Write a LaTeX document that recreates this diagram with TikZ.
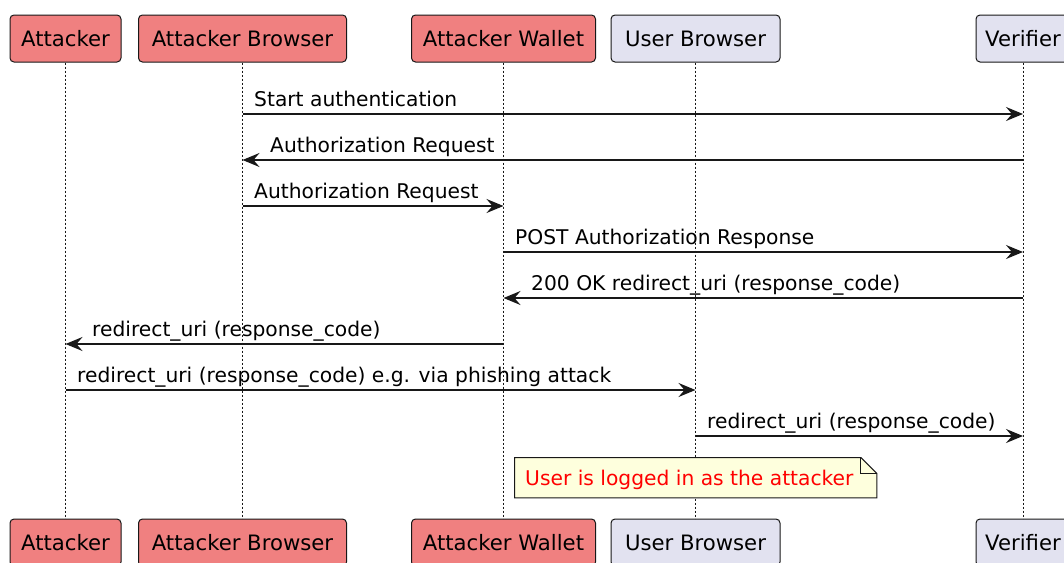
\documentclass[tikz,border=0pt]{standalone}
\usepackage{fontspec}
\setmainfont{DejaVu Sans}
\usetikzlibrary{arrows.meta}
\definecolor{edge}{HTML}{181818}
\definecolor{atk}{HTML}{F08080}
\definecolor{usr}{HTML}{E2E2F0}
\definecolor{notebg}{HTML}{FEFFDD}
\begin{document}
\begin{tikzpicture}[x=1pt,y=-1pt,
  part/.style={draw=edge, line width=1pt, rounded corners=4pt, minimum height=47pt,
               inner sep=0pt, font=\fontsize{21.2}{25}\selectfont, text=black},
  atkpart/.style={part, fill=atk},
  usrpart/.style={part, fill=usr},
  life/.style={draw=edge, line width=0.9pt, dash pattern=on 2pt off 2pt},
  msg/.style={draw=edge, line width=1.5pt, -{Stealth[length=17pt,width=14pt,inset=6pt]}},
  lbl/.style={anchor=base west, inner sep=0pt, font=\fontsize{20.25}{24}\selectfont, text=black},
]
\path[use as bounding box, clip] (0,0) rectangle (1064,562);

% participants, top row
\node[atkpart, minimum width=111pt] (atkT) at (65.5,38.5) {Attacker};
\node[atkpart, minimum width=208pt] (abT)  at (242.5,38.5) {Attacker Browser};
\node[atkpart, minimum width=184pt] (awT)  at (503.5,38.5) {Attacker Wallet};
\node[usrpart, minimum width=169pt] (ubT)  at (695.5,38.5) {User Browser};
\node[usrpart, minimum width=94pt]  (verT) at (1023,38.5) {Verifier};

% participants, bottom row
\node[atkpart, minimum width=111pt] (atkB) at (65.5,542.5) {Attacker};
\node[atkpart, minimum width=208pt] (abB)  at (242.5,542.5) {Attacker Browser};
\node[atkpart, minimum width=184pt] (awB)  at (503.5,542.5) {Attacker Wallet};
\node[usrpart, minimum width=169pt] (ubB)  at (695.5,542.5) {User Browser};
\node[usrpart, minimum width=94pt]  (verB) at (1023,542.5) {Verifier};

% lifelines
\draw[life] (atkT.south) -- (atkB.north);
\draw[life] (abT.south)  -- (abB.north);
\draw[life] (awT.south)  -- (awB.north);
\draw[life] (ubT.south)  -- (ubB.north);
\draw[life] (verT.south) -- (verB.north);

% messages
\draw[msg] (abT.south |- 0,114) -- (verT.south |- 0,114);
\node[lbl] (l1) at (254,106.5) {Start authentication};

\draw[msg] (verT.south |- 0,160) -- (abT.south |- 0,160);
\node[lbl] (l2) at (270,152.5) {Authorization Request};

\draw[msg] (abT.south |- 0,206) -- (awT.south |- 0,206);
\node[lbl] (l3) at (254,198.5) {Authorization Request};

\draw[msg] (awT.south |- 0,252) -- (verT.south |- 0,252);
\node[lbl] (l4) at (515,244.5) {POST Authorization Response};

\draw[msg] (verT.south |- 0,298) -- (awT.south |- 0,298);
\node[lbl] (l5) at (531,290.5) {200 OK redirect\_uri (response\_code)};

\draw[msg] (awT.south |- 0,344) -- (atkT.south |- 0,344);
\node[lbl] (l6) at (92,336.5) {redirect\_uri (response\_code)};

\draw[msg] (atkT.south |- 0,390) -- (ubT.south |- 0,390);
\node[lbl] (l7) at (77,382.5) {redirect\_uri (response\_code) e.g. via phishing attack};

\draw[msg] (ubT.south |- 0,436) -- (verT.south |- 0,436);
\node[lbl] (l8) at (707,428.5) {redirect\_uri (response\_code)};

% note with folded corner
\node[anchor=north west, minimum width=362pt, minimum height=40pt, inner sep=0pt] (note) at (514.5,457.5) {};
\draw[draw=edge, fill=notebg, line width=1pt]
  (note.north west) -- ([xshift=-16pt]note.north east) -- ([yshift=-16pt]note.north east)
  -- (note.south east) -- (note.south west) -- cycle;
\draw[draw=edge, line width=1pt]
  ([xshift=-16pt]note.north east) -- ([xshift=-16pt,yshift=-16pt]note.north east)
  -- ([yshift=-16pt]note.north east);
\node[lbl, text=red] (notetext) at (525,485) {User is logged in as the attacker};
\end{tikzpicture}
\end{document}
